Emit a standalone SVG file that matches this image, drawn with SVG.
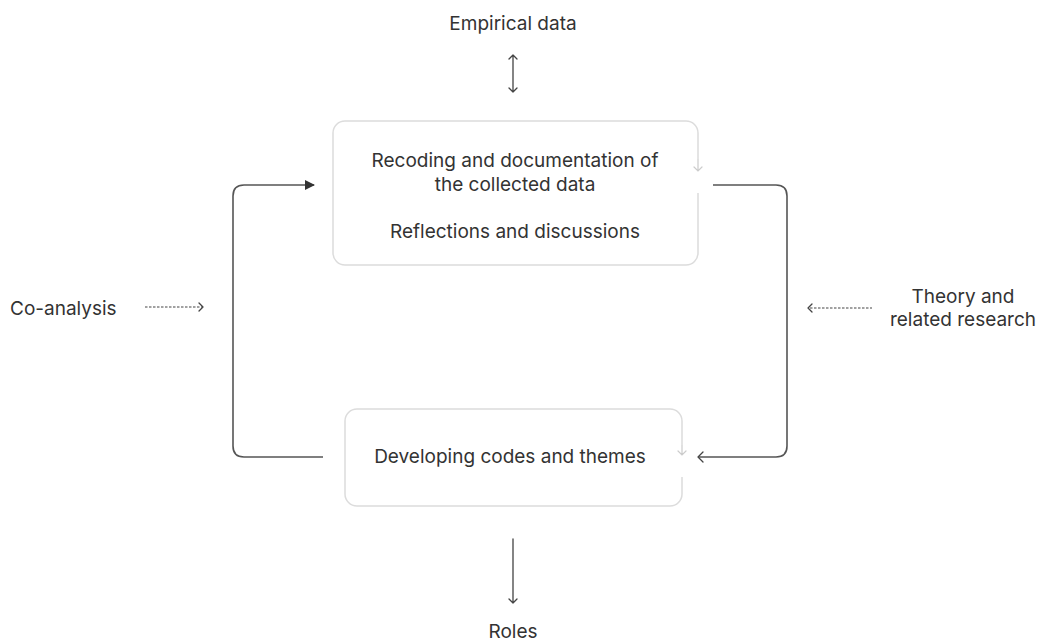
<svg xmlns="http://www.w3.org/2000/svg" width="1040" height="641" viewBox="0 0 1040 641">
<style>
text{font-family:Inter,"Liberation Sans",sans-serif;font-size:19px;fill:#333;}
.box{fill:#fff;stroke:#dcdcdc;stroke-width:1.5;}
.gap{stroke:#fff;stroke-width:4;fill:none;}
.small{stroke:#ccc;stroke-width:1.2;fill:none;stroke-linecap:round;}
.ln{stroke:#555;stroke-width:1.6;fill:none;}
.dot{stroke:#444;stroke-width:1.2;fill:none;stroke-dasharray:2.5 1.5;}
.oh{stroke:#444;stroke-width:1.3;fill:none;stroke-linecap:round;stroke-linejoin:round;}
</style>
<defs>
<marker id="tri" markerWidth="10" markerHeight="10" refX="9" refY="5" orient="auto" markerUnits="userSpaceOnUse"><path d="M0,0 L10,5 L0,10 z" fill="#333"/></marker>
</defs>
<g id="top-node">
<rect class="box" x="333" y="121" width="365" height="144" rx="12"/>
<line class="gap" x1="698" y1="160" x2="698" y2="193"/>
<path class="small" d="M698,160 V171 M694,167 L698,171 L702,167"/>
<text x="515" y="167" text-anchor="middle">Recoding and documentation of</text>
<text x="515" y="191" text-anchor="middle">the collected data</text>
<text x="515" y="238" text-anchor="middle">Reflections and discussions</text>
</g>
<g id="bottom-node">
<rect class="box" x="345" y="409" width="337" height="97" rx="12"/>
<line class="gap" x1="682" y1="446" x2="682" y2="477"/>
<path class="small" d="M682,446 V455 M678,451 L682,455 L686,451"/>
<text x="510" y="463" text-anchor="middle">Developing codes and themes</text>
</g>
<g id="empirical">
<text x="513" y="30" text-anchor="middle">Empirical data</text>
</g>
<g id="roles">
<text x="513" y="638" text-anchor="middle">Roles</text>
</g>
<g id="coanalysis">
<text x="10" y="315">Co-analysis</text>
</g>
<g id="theory">
<text x="963" y="303" text-anchor="middle">Theory and</text>
<text x="963" y="326" text-anchor="middle">related research</text>
</g>
<g id="connectors">
<path class="oh" d="M513,55 V92 M509,59 L513,55 L517,59 M509,88 L513,92 L517,88"/>
<path class="oh" d="M513,539 V603 M509,599 L513,603 L517,599"/>
<path class="ln" d="M323,457 H244 Q233,457 233,446 V196 Q233,185 244,185 H314" marker-end="url(#tri)"/>
<path class="ln" d="M713,185 H776 Q787,185 787,196 V446 Q787,457 776,457 H698"/>
<path class="oh" d="M703,452 L698,457 L703,462"/>
<line class="dot" x1="145" y1="307" x2="202" y2="307"/>
<path class="oh" d="M199,303 L203,307 L199,311"/>
<line class="dot" x1="810" y1="308" x2="872" y2="308"/>
<path class="oh" d="M812,304 L808,308 L812,312"/>
</g>
</svg>
